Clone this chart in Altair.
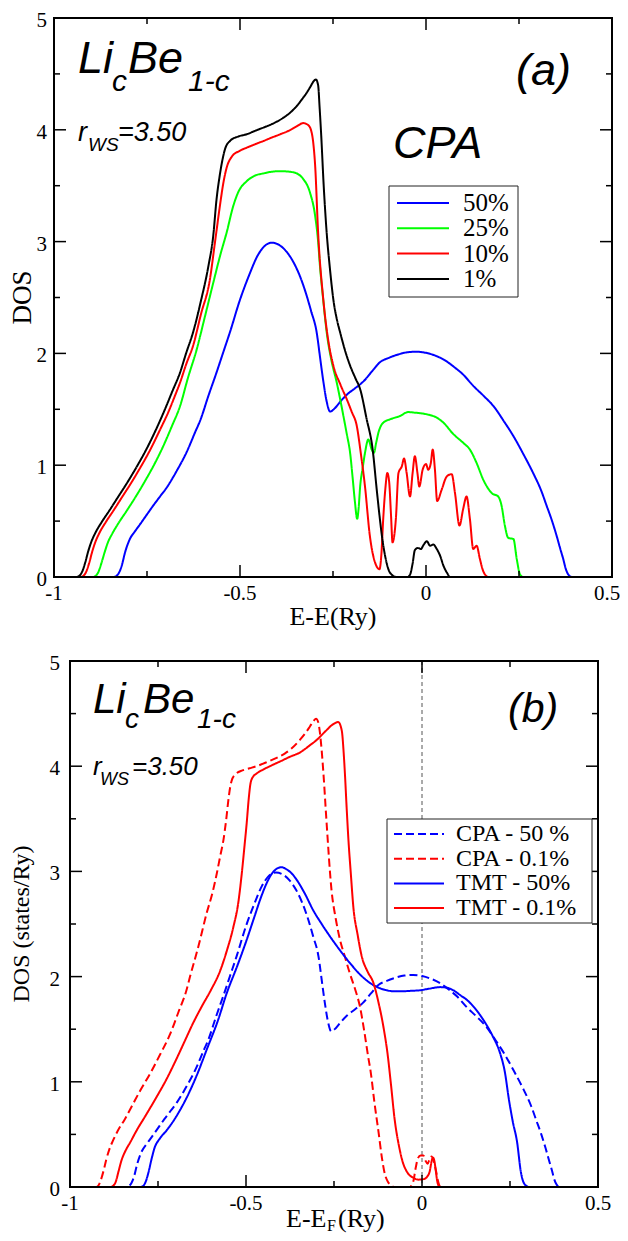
import altair as alt
import pandas as pd

SERIF = "Liberation Serif"
SANS = "Liberation Sans"

# ---------------- panel (a): CPA DOS of Li_c Be_1-c ----------------
A_SERIES = ["50%", "25%", "10%", "1%"]
A_COLORS = ["#0000ff", "#00ff00", "#ff0000", "#000000"]

A_50 = [(-1.0, 0.0), (-0.84, 0.0), (-0.832, 0.01), (-0.825, 0.04), (-0.818, 0.10), (-0.809, 0.22),
        (-0.796, 0.34), (-0.782, 0.41), (-0.769, 0.47), (-0.750, 0.56), (-0.733, 0.64), (-0.715, 0.72),
        (-0.697, 0.80), (-0.670, 0.95), (-0.643, 1.12), (-0.620, 1.30), (-0.607, 1.40), (-0.585, 1.62),
        (-0.563, 1.83), (-0.545, 2.01), (-0.527, 2.19), (-0.500, 2.48), (-0.473, 2.72), (-0.455, 2.86),
        (-0.437, 2.95), (-0.415, 2.99), (-0.395, 2.97), (-0.375, 2.91), (-0.357, 2.82), (-0.340, 2.70),
        (-0.323, 2.54), (-0.309, 2.38), (-0.294, 2.19), (-0.285, 1.97), (-0.276, 1.75), (-0.267, 1.57),
        (-0.258, 1.48), (-0.245, 1.51), (-0.230, 1.57), (-0.213, 1.63), (-0.190, 1.69), (-0.168, 1.75),
        (-0.145, 1.84), (-0.124, 1.92), (-0.100, 1.96), (-0.075, 1.99), (-0.050, 2.01), (-0.025, 2.015),
        (0.000, 2.005), (0.025, 1.98), (0.050, 1.94), (0.075, 1.88), (0.100, 1.81), (0.127, 1.71),
        (0.155, 1.62), (0.181, 1.53), (0.210, 1.39), (0.235, 1.26), (0.260, 1.11), (0.288, 0.93),
        (0.310, 0.77), (0.324, 0.64), (0.338, 0.51), (0.351, 0.37), (0.362, 0.24), (0.369, 0.16),
        (0.376, 0.07), (0.383, 0.02), (0.392, 0.0), (0.5, 0.0)]

A_25 = [(-1.0, 0.0), (-0.895, 0.0), (-0.888, 0.01), (-0.880, 0.05), (-0.872, 0.13), (-0.864, 0.22),
        (-0.855, 0.31), (-0.843, 0.39), (-0.827, 0.48), (-0.805, 0.59), (-0.780, 0.72), (-0.755, 0.86),
        (-0.730, 1.01), (-0.705, 1.18), (-0.683, 1.35), (-0.661, 1.53), (-0.640, 1.78), (-0.616, 2.04),
        (-0.595, 2.32), (-0.572, 2.63), (-0.553, 2.88), (-0.536, 3.08), (-0.518, 3.32), (-0.505, 3.44),
        (-0.482, 3.54), (-0.460, 3.59), (-0.437, 3.61), (-0.415, 3.625), (-0.392, 3.63), (-0.357, 3.62),
        (-0.330, 3.56), (-0.312, 3.44), (-0.298, 3.23), (-0.290, 3.00), (-0.285, 2.78), (-0.276, 2.47),
        (-0.267, 2.19), (-0.255, 1.95), (-0.240, 1.74), (-0.222, 1.44), (-0.213, 1.28), (-0.204, 1.11),
        (-0.197, 0.88), (-0.191, 0.67), (-0.185, 0.52), (-0.181, 0.62), (-0.177, 0.81), (-0.170, 0.98),
        (-0.164, 1.11), (-0.155, 1.23), (-0.146, 1.14), (-0.140, 1.11), (-0.134, 1.20), (-0.128, 1.29),
        (-0.115, 1.38), (-0.097, 1.41), (-0.070, 1.44), (-0.048, 1.475), (-0.030, 1.47), (0.002, 1.455),
        (0.029, 1.425), (0.047, 1.38), (0.073, 1.28), (0.100, 1.20), (0.118, 1.14), (0.136, 1.02),
        (0.154, 0.87), (0.177, 0.75), (0.194, 0.72), (0.203, 0.64), (0.212, 0.46), (0.221, 0.35),
        (0.235, 0.34), (0.244, 0.16), (0.253, 0.02), (0.262, 0.0), (0.5, 0.0)]

A_10 = [(-1.0, 0.0), (-0.928, 0.0), (-0.921, 0.01), (-0.913, 0.05), (-0.905, 0.13), (-0.897, 0.23),
        (-0.888, 0.32), (-0.877, 0.40), (-0.861, 0.49), (-0.841, 0.59), (-0.816, 0.72), (-0.791, 0.85),
        (-0.766, 0.99), (-0.741, 1.14), (-0.716, 1.31), (-0.692, 1.48), (-0.675, 1.62), (-0.661, 1.74),
        (-0.645, 1.90), (-0.626, 2.07), (-0.605, 2.35), (-0.581, 2.66), (-0.567, 3.00), (-0.554, 3.32),
        (-0.545, 3.52), (-0.536, 3.66), (-0.522, 3.76), (-0.502, 3.81), (-0.482, 3.84), (-0.460, 3.87),
        (-0.437, 3.90), (-0.415, 3.93), (-0.392, 3.96), (-0.370, 3.99), (-0.348, 4.03), (-0.330, 4.06),
        (-0.316, 4.04), (-0.307, 3.97), (-0.302, 3.85), (-0.298, 3.68), (-0.290, 3.08), (-0.276, 2.48),
        (-0.262, 2.10), (-0.249, 1.89), (-0.230, 1.72), (-0.213, 1.59), (-0.200, 1.48), (-0.186, 1.35),
        (-0.175, 1.10), (-0.164, 0.81), (-0.151, 0.37), (-0.137, 0.13), (-0.125, 0.07), (-0.120, 0.20),
        (-0.115, 0.52), (-0.109, 0.80), (-0.104, 0.93), (-0.099, 0.85), (-0.094, 0.55), (-0.090, 0.31),
        (-0.085, 0.38), (-0.081, 0.52), (-0.074, 0.93), (-0.065, 0.99), (-0.059, 1.06), (-0.052, 0.93),
        (-0.043, 0.72), (-0.036, 0.93), (-0.030, 1.08), (-0.023, 0.93), (-0.018, 0.81), (-0.009, 0.96),
        (0.000, 1.01), (0.006, 0.96), (0.013, 1.02), (0.018, 1.14), (0.024, 0.96), (0.030, 0.68),
        (0.042, 0.78), (0.056, 0.90), (0.069, 0.92), (0.078, 0.75), (0.090, 0.46), (0.100, 0.61),
        (0.109, 0.72), (0.118, 0.52), (0.127, 0.25), (0.136, 0.28), (0.145, 0.16), (0.152, 0.07),
        (0.159, 0.02), (0.168, 0.0), (0.5, 0.0)]

A_1 = [(-1.0, 0.0), (-0.94, 0.0), (-0.932, 0.01), (-0.924, 0.05), (-0.916, 0.13), (-0.908, 0.23),
       (-0.899, 0.32), (-0.888, 0.40), (-0.872, 0.49), (-0.852, 0.59), (-0.827, 0.72), (-0.802, 0.85),
       (-0.777, 0.99), (-0.752, 1.14), (-0.727, 1.31), (-0.703, 1.49), (-0.682, 1.66), (-0.661, 1.83),
       (-0.645, 2.00), (-0.626, 2.19), (-0.605, 2.47), (-0.585, 2.78), (-0.572, 3.05), (-0.563, 3.38),
       (-0.555, 3.58), (-0.549, 3.70), (-0.540, 3.83), (-0.527, 3.90), (-0.505, 3.94), (-0.482, 3.96),
       (-0.460, 3.99), (-0.437, 4.02), (-0.415, 4.05), (-0.392, 4.09), (-0.370, 4.14), (-0.348, 4.21),
       (-0.334, 4.27), (-0.321, 4.33), (-0.310, 4.39), (-0.303, 4.43), (-0.296, 4.45), (-0.290, 4.40),
       (-0.286, 4.20), (-0.282, 3.97), (-0.275, 3.50), (-0.267, 3.08), (-0.258, 2.75), (-0.249, 2.48),
       (-0.240, 2.31), (-0.231, 2.19), (-0.218, 2.03), (-0.204, 1.89), (-0.190, 1.78), (-0.177, 1.68),
       (-0.160, 1.42), (-0.143, 1.13), (-0.133, 0.80), (-0.124, 0.52), (-0.117, 0.33), (-0.110, 0.19),
       (-0.100, 0.06), (-0.092, 0.02), (-0.080, 0.0), (-0.050, 0.0), (-0.043, 0.02), (-0.036, 0.12),
       (-0.030, 0.24), (-0.022, 0.26), (-0.014, 0.25), (-0.006, 0.29), (0.002, 0.32), (0.011, 0.28),
       (0.020, 0.29), (0.029, 0.25), (0.038, 0.19), (0.047, 0.10), (0.056, 0.04), (0.065, 0.0), (0.5, 0.0)]

# ---------------- panel (b): CPA vs TMT ----------------
B_SERIES = ["CPA - 50 %", "CPA - 0.1%", "TMT - 50%", "TMT - 0.1%"]
B_COLORS = ["#0000ff", "#ff0000", "#0000ff", "#ff0000"]
B_DASHES = [[8, 4], [8, 4], [1, 0], [1, 0]]

B_CPA_50 = A_50  # the same CPA 50% curve as in panel (a)

B_CPA_01 = [(-1.0, 0.0), (-0.925, 0.0), (-0.920, 0.01), (-0.913, 0.06), (-0.905, 0.15), (-0.897, 0.26),
            (-0.888, 0.36), (-0.878, 0.44), (-0.865, 0.53), (-0.845, 0.64), (-0.824, 0.77), (-0.800, 0.92),
            (-0.772, 1.08), (-0.744, 1.26), (-0.716, 1.45), (-0.690, 1.68), (-0.670, 1.86), (-0.659, 2.00),
            (-0.635, 2.29), (-0.612, 2.60), (-0.595, 2.80), (-0.583, 2.98), (-0.573, 3.15), (-0.564, 3.30),
            (-0.556, 3.50), (-0.550, 3.68), (-0.545, 3.80), (-0.541, 3.86), (-0.531, 3.92), (-0.510, 3.96),
            (-0.490, 3.98), (-0.470, 4.00), (-0.440, 4.04), (-0.413, 4.08), (-0.390, 4.12), (-0.370, 4.17),
            (-0.347, 4.25), (-0.330, 4.32), (-0.318, 4.38), (-0.308, 4.43), (-0.301, 4.45), (-0.295, 4.42),
            (-0.290, 4.32), (-0.285, 4.15), (-0.280, 3.93), (-0.271, 3.46), (-0.257, 2.82), (-0.245, 2.55),
            (-0.233, 2.35), (-0.220, 2.20), (-0.205, 2.03), (-0.190, 1.88), (-0.176, 1.71), (-0.164, 1.48),
            (-0.153, 1.24), (-0.146, 1.10), (-0.135, 0.80), (-0.123, 0.51), (-0.114, 0.28), (-0.106, 0.13),
            (-0.097, 0.05), (-0.089, 0.02), (-0.080, 0.0), (-0.035, 0.0), (-0.025, 0.05), (-0.018, 0.18),
            (-0.012, 0.27), (-0.004, 0.30), (0.004, 0.30), (0.010, 0.25), (0.016, 0.22), (0.022, 0.27),
            (0.027, 0.29), (0.033, 0.25), (0.040, 0.15), (0.046, 0.05), (0.052, 0.0), (0.5, 0.0)]

B_TMT_50 = [(-1.0, 0.0), (-0.80, 0.0), (-0.792, 0.01), (-0.785, 0.05), (-0.777, 0.14), (-0.768, 0.27),
            (-0.760, 0.37), (-0.745, 0.46), (-0.725, 0.54), (-0.700, 0.66), (-0.670, 0.84), (-0.640, 1.06),
            (-0.610, 1.32), (-0.580, 1.58), (-0.555, 1.84), (-0.525, 2.10), (-0.498, 2.35), (-0.475, 2.58),
            (-0.460, 2.73), (-0.445, 2.86), (-0.432, 2.95), (-0.415, 3.02), (-0.399, 3.04), (-0.385, 3.02),
            (-0.370, 2.98), (-0.356, 2.92), (-0.333, 2.79), (-0.309, 2.63), (-0.285, 2.50), (-0.261, 2.38),
            (-0.233, 2.25), (-0.205, 2.13), (-0.176, 2.02), (-0.148, 1.94), (-0.120, 1.89), (-0.100, 1.87),
            (-0.080, 1.86), (-0.062, 1.86), (-0.030, 1.865), (-0.006, 1.87), (0.020, 1.885), (0.051, 1.90),
            (0.070, 1.895), (0.089, 1.87), (0.110, 1.82), (0.127, 1.78), (0.150, 1.70), (0.174, 1.59),
            (0.200, 1.44), (0.222, 1.27), (0.235, 1.10), (0.247, 0.83), (0.258, 0.62), (0.270, 0.43),
            (0.281, 0.14), (0.293, 0.02), (0.305, 0.0), (0.5, 0.0)]

B_TMT_01 = [(-1.0, 0.0), (-0.885, 0.0), (-0.878, 0.01), (-0.870, 0.05), (-0.862, 0.15), (-0.853, 0.26),
            (-0.843, 0.34), (-0.828, 0.43), (-0.812, 0.53), (-0.785, 0.68), (-0.755, 0.85), (-0.725, 1.03),
            (-0.700, 1.20), (-0.675, 1.38), (-0.650, 1.56), (-0.625, 1.72), (-0.600, 1.87), (-0.574, 2.05),
            (-0.555, 2.24), (-0.536, 2.47), (-0.522, 2.70), (-0.512, 2.98), (-0.504, 3.25), (-0.498, 3.46),
            (-0.492, 3.70), (-0.487, 3.84), (-0.480, 3.90), (-0.470, 3.93), (-0.450, 3.97), (-0.432, 4.00),
            (-0.400, 4.05), (-0.375, 4.09), (-0.347, 4.13), (-0.318, 4.20), (-0.299, 4.25), (-0.275, 4.33),
            (-0.252, 4.40), (-0.238, 4.42), (-0.228, 4.34), (-0.222, 4.10), (-0.219, 3.93), (-0.214, 3.60),
            (-0.209, 3.30), (-0.202, 2.97), (-0.195, 2.66), (-0.183, 2.40), (-0.171, 2.19), (-0.155, 2.05),
            (-0.138, 1.94), (-0.124, 1.76), (-0.110, 1.53), (-0.098, 1.27), (-0.088, 0.97), (-0.078, 0.65),
            (-0.066, 0.40), (-0.055, 0.24), (-0.042, 0.14), (-0.026, 0.09), (-0.010, 0.07), (0.005, 0.075),
            (0.015, 0.10), (0.022, 0.15), (0.027, 0.24), (0.031, 0.28), (0.035, 0.25), (0.039, 0.16),
            (0.043, 0.06), (0.048, 0.01), (0.055, 0.0), (0.5, 0.0)]

# ---------------- axes (ticks and tick labels) ----------------
X_MAJOR = [-1.0, -0.5, 0.0, 0.5]
X_LABELS = ["-1", "-0.5", "0", "0.5"]
X_MINOR = [-0.75, -0.25, 0.25]
Y_MAJOR = [0, 1, 2, 3, 4, 5]
Y_LABELS = ["0", "1", "2", "3", "4", "5"]
Y_MINOR = [0.5, 1.5, 2.5, 3.5, 4.5]
X_EDGES = [-1.0, 0.5]
Y_EDGES = [0, 5]

# layout: one drawing surface; each panel's frame box (left, right, top, bottom) in pixels
VIEW_W, VIEW_H = 612, 1225
A_BOX = (46, 604, 10, 569)
B_BOX = (62, 590, 653, 1179)
AY = A_BOX[2]  # vertical origin of panel (a) annotations


def scales(box):
    l, r, t, b = box
    return (alt.Scale(domain=[-1, 0.5], range=[l, r], nice=False, zero=False),
            alt.Scale(domain=[0, 5], range=[b, t], nice=False, zero=False))


XS_A, YS_A = scales(A_BOX)
XS_B, YS_B = scales(B_BOX)
ONE = pd.DataFrame({"k": [0]})


def curve_layers(names, series, colors, dashes, xs, ys):
    out = []
    for n, pts, col, dash in zip(names, series, colors, dashes):
        d = pd.DataFrame({"x": [p[0] for p in pts], "y": [p[1] for p in pts], "series": n})
        out.append(alt.Chart(d).mark_line(strokeWidth=2, interpolate="monotone", color=col,
                                          strokeDash=dash).encode(
            x=alt.X("x:Q", scale=xs, axis=None), y=alt.Y("y:Q", scale=ys, axis=None)))
    return out


def frame_layers(xs, ys, box, ylab_right, last_dx=0):
    l, r, t, b = box
    out = []
    out.append(alt.Chart(pd.DataFrame({"v": X_EDGES})).mark_rule(
        color="black", strokeWidth=2, strokeCap="square").encode(
        x=alt.X("v:Q", scale=xs, axis=None), y=alt.value(t), y2=alt.value(b)))
    out.append(alt.Chart(pd.DataFrame({"v": Y_EDGES})).mark_rule(
        color="black", strokeWidth=2, strokeCap="square").encode(
        y=alt.Y("v:Q", scale=ys, axis=None), x=alt.value(l), x2=alt.value(r)))
    for vals, L in ((X_MAJOR, 12), (X_MINOR, 6)):
        base = alt.Chart(pd.DataFrame({"v": vals})).mark_rule(color="black", strokeWidth=1.5)
        out.append(base.encode(x=alt.X("v:Q", scale=xs, axis=None), y=alt.value(b), y2=alt.value(b - L)))
        out.append(base.encode(x=alt.X("v:Q", scale=xs, axis=None), y=alt.value(t), y2=alt.value(t + L)))
    for vals, L in ((Y_MAJOR, 12), (Y_MINOR, 6)):
        base = alt.Chart(pd.DataFrame({"v": vals})).mark_rule(color="black", strokeWidth=1.5)
        out.append(base.encode(y=alt.Y("v:Q", scale=ys, axis=None), x=alt.value(l), x2=alt.value(l + L)))
        out.append(base.encode(y=alt.Y("v:Q", scale=ys, axis=None), x=alt.value(r), x2=alt.value(r - L)))
    # x tick labels; the last one may be nudged so it stays on the page
    xl = pd.DataFrame({"v": X_MAJOR, "lab": X_LABELS})
    for part, dx in ((xl.iloc[:-1], 0), (xl.iloc[-1:], last_dx)):
        out.append(alt.Chart(part).mark_text(
            font=SERIF, fontSize=21, color="black", align="center", baseline="alphabetic", dx=dx).encode(
            x=alt.X("v:Q", scale=xs, axis=None), y=alt.value(b + 23), text="lab:N"))
    out.append(alt.Chart(pd.DataFrame({"v": Y_MAJOR, "lab": Y_LABELS})).mark_text(
        font=SERIF, fontSize=21, color="black", align="right", baseline="middle", dy=3).encode(
        y=alt.Y("v:Q", scale=ys, axis=None), x=alt.value(ylab_right), text="lab:N"))
    return out


def legend_layers(labels, colors, dashes, box, lx0, lx1, tx, ry0, rdy, fs):
    out = [alt.Chart(ONE).mark_rect(fill="white", stroke="#222222", strokeWidth=1).encode(
        x=alt.value(box[0]), x2=alt.value(box[2]), y=alt.value(box[1]), y2=alt.value(box[3]))]
    for i, (lab, col, dash) in enumerate(zip(labels, colors, dashes)):
        yy = ry0 + i * rdy
        out.append(alt.Chart(ONE).mark_rule(color=col, strokeWidth=2, strokeDash=dash).encode(
            x=alt.value(lx0), x2=alt.value(lx1), y=alt.value(yy)))
        out.append(alt.Chart(ONE).mark_text(text=lab, align="left", baseline="middle", font=SERIF,
                                            fontSize=fs, color="black").encode(
            x=alt.value(tx), y=alt.value(yy)))
    return out


def txt(s, x, y, size, font=SANS, italic=True, align="left", angle=None):
    kw = dict(text=s, align=align, baseline="alphabetic", font=font, fontSize=size, color="black")
    if italic:
        kw["fontStyle"] = "italic"
    if angle is not None:
        kw["angle"] = angle
    return alt.Chart(ONE).mark_text(**kw).encode(x=alt.value(x), y=alt.value(y))


# ---------------- panel (a) ----------------
layers = curve_layers(A_SERIES, [A_50, A_25, A_10, A_1], A_COLORS, [[1, 0]] * 4, XS_A, YS_A)
layers += frame_layers(XS_A, YS_A, A_BOX, 39, last_dx=-5)
layers += legend_layers(A_SERIES, A_COLORS, [[1, 0]] * 4, (381, AY + 168, 510, AY + 279),
                        389, 441, 455, AY + 185, 25.3, 25)
layers += [
    txt("Li", 70, AY + 55, 45), txt("c", 104, AY + 73, 30), txt("Be", 120, AY + 55, 45),
    txt("1-c", 180, AY + 73, 30),
    txt("r", 70, AY + 123, 27), txt("WS", 80, AY + 133, 19), txt("=3.50", 110, AY + 123, 27),
    txt("(a)", 508, AY + 67, 45), txt("CPA", 385, AY + 140, 45),
    txt("DOS", 23, AY + 279.5, 27, font=SERIF, italic=False, align="center", angle=270),
    txt("E-E(Ry)", 325, AY + 607, 26, font=SERIF, italic=False, align="center"),
]

# ---------------- panel (b) ----------------
layers.append(alt.Chart(pd.DataFrame({"v": [0.0]})).mark_rule(
    color="#555555", strokeWidth=1, strokeDash=[4, 3]).encode(
    x=alt.X("v:Q", scale=XS_B, axis=None), y=alt.value(B_BOX[2]), y2=alt.value(B_BOX[3])))
layers += curve_layers(B_SERIES, [B_CPA_50, B_CPA_01, B_TMT_50, B_TMT_01], B_COLORS, B_DASHES, XS_B, YS_B)
layers += frame_layers(XS_B, YS_B, B_BOX, 52)
layers += legend_layers(B_SERIES, B_COLORS, B_DASHES, (379, 811, 584, 915), 386, 436, 448, 826, 24.7, 24)
layers += [
    txt("Li", 85, 705, 42), txt("c", 117, 720, 28), txt("Be", 135, 705, 42), txt("1-c", 189, 720, 28),
    txt("r", 85, 767, 26), txt("WS", 92, 777, 18), txt("=3.50", 124, 767, 26),
    txt("(b)", 500, 714, 41),
    txt("DOS (states/Ry)", 21, 916, 24, font=SERIF, italic=False, align="center", angle=270),
    txt("E-E", 278, 1219, 26, font=SERIF, italic=False),
    txt("F", 319, 1223, 16, font=SERIF, italic=False),
    txt("(Ry)", 330, 1219, 26, font=SERIF, italic=False),
]

chart = alt.layer(*layers).resolve_scale(x="independent", y="independent").properties(
    width=VIEW_W, height=VIEW_H, padding=0, autosize=alt.AutoSizeParams(type="none"),
).configure_view(strokeOpacity=0)

chart.save("out.html", embed_options={"renderer": "svg", "actions": False})
